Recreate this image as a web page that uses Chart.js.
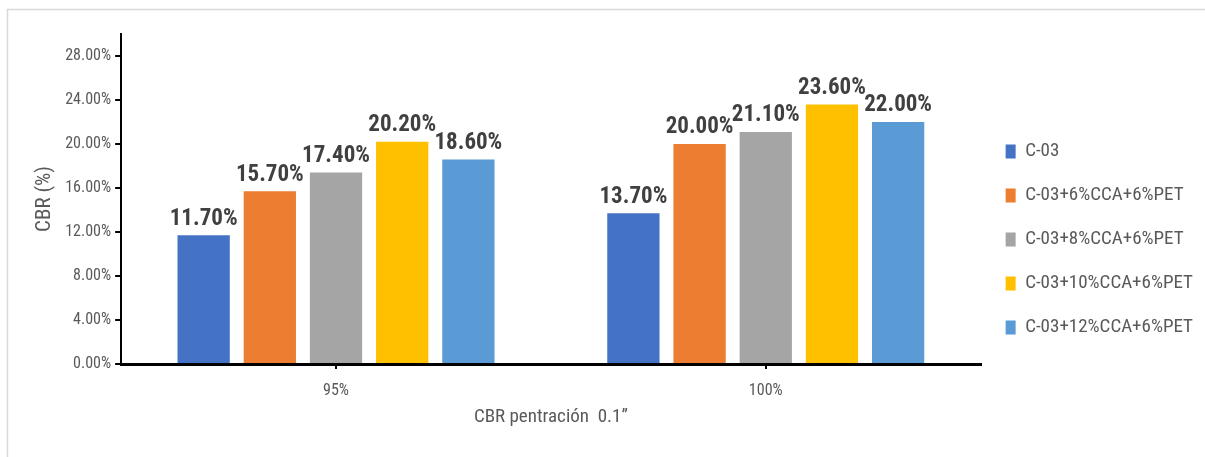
<!DOCTYPE html>
<html>
<head>
<meta charset="utf-8">
<script src="https://cdn.jsdelivr.net/npm/chart.js@4/dist/chart.umd.min.js"></script>
<style>
  body { margin: 0; background: #fff; }
  #wrap { width: 1205px; height: 457px; }
</style>
</head>
<body>
<div id="wrap"><canvas id="cbr-chart" width="1205" height="457"></canvas></div>
<script>
const categories = ['95%', '100%'];
const seriesNames = ['C-03', 'C-03+6%CCA+6%PET', 'C-03+8%CCA+6%PET', 'C-03+10%CCA+6%PET', 'C-03+12%CCA+6%PET'];
const c03 = [11.7, 13.7];
const cca6 = [15.7, 20.0];
const cca8 = [17.4, 21.1];
const cca10 = [20.2, 23.6];
const cca12 = [18.6, 22.0];
const colors = ['#4472C4', '#ED7D31', '#A5A5A5', '#FFC000', '#5B9BD5'];

const font = "'Liberation Sans Narrow', 'Roboto Condensed', 'Liberation Sans', sans-serif";

// frame like the excel chart border (only top + left show)
const frame = {
  id: 'frame',
  beforeDraw(chart) {
    const ctx = chart.ctx;
    ctx.save();
    ctx.strokeStyle = '#d9d9d9';
    ctx.lineWidth = 1.5;
    ctx.beginPath();
    ctx.moveTo(7.5, 457);
    ctx.lineTo(7.5, 9.5);
    ctx.lineTo(1205, 9.5);
    ctx.stroke();
    ctx.restore();
  }
};

// value labels on top of bars
const barLabels = {
  id: 'barLabels',
  afterDatasetsDraw(chart) {
    const ctx = chart.ctx;
    ctx.save();
    ctx.font = 'bold 23px ' + font;
    ctx.fillStyle = '#404040';
    ctx.textAlign = 'center';
    ctx.textBaseline = 'bottom';
    chart.data.datasets.forEach((ds, i) => {
      chart.getDatasetMeta(i).data.forEach((bar, j) => {
        ctx.fillText(ds.data[j].toFixed(2) + '%', bar.x, bar.y - 5);
      });
    });
    ctx.restore();
  }
};

const series = [c03, cca6, cca8, cca10, cca12];

new Chart(document.getElementById('cbr-chart'), {
  type: 'bar',
  data: {
    labels: categories,
    datasets: series.map((d, i) => ({
      label: seriesNames[i],
      data: d,
      backgroundColor: colors[i],
      categoryPercentage: 0.77,
      barPercentage: 0.79
    }))
  },
  options: {
    responsive: false,
    animation: false,
    layout: { padding: { left: 28, right: 2, top: 34, bottom: 24 } },
    plugins: {
      legend: {
        position: 'right',
        title: { display: true, text: '', font: { size: 10 }, padding: 0 },
        labels: {
          boxWidth: 10,
          boxHeight: 14,
          padding: 25,
          color: '#595959',
          font: { family: font, size: 19 }
        }
      },
      tooltip: { enabled: false }
    },
    scales: {
      x: {
        grid: { drawOnChartArea: false, offset: false, tickLength: 5, color: '#000', lineWidth: 2 },
        border: { color: '#000', width: 3 },
        ticks: { color: '#595959', font: { family: font, size: 16 }, padding: 12 },
        title: {
          display: true,
          text: 'CBR pentración  0.1”',
          color: '#595959',
          font: { family: font, size: 19 },
          padding: { top: -6 }
        }
      },
      y: {
        min: 0,
        max: 30,
        grid: { drawOnChartArea: false, tickLength: 6, color: '#000', lineWidth: 2 },
        border: { color: '#000', width: 2 },
        ticks: {
          stepSize: 4,
          includeBounds: false,
          color: '#595959',
          font: { family: font, size: 16 },
          padding: 4,
          callback: v => v.toFixed(2) + '%'
        },
        title: {
          display: true,
          text: 'CBR (%)',
          color: '#595959',
          font: { family: font, size: 21 },
          padding: { bottom: 4 }
        }
      }
    }
  },
  plugins: [frame, barLabels]
});
</script>
</body>
</html>
